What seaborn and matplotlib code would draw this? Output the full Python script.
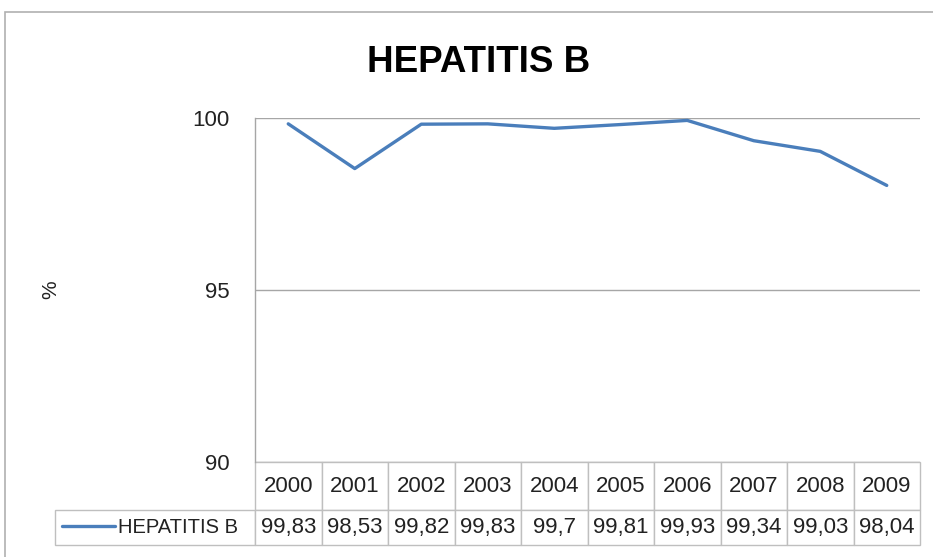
import numpy as np
import pandas as pd
import matplotlib
matplotlib.use('Agg')
import matplotlib.pyplot as plt
import seaborn as sns
from matplotlib.patches import Rectangle

# data
years = [2000, 2001, 2002, 2003, 2004, 2005, 2006, 2007, 2008, 2009]
values = [99.83, 98.53, 99.82, 99.83, 99.7, 99.81, 99.93, 99.34, 99.03, 98.04]
series_name = 'HEPATITIS B'
chart_title = 'HEPATITIS B'
y_ticks = [90, 95, 100]

df = pd.DataFrame({'year': years, 'value': values, 'serie': series_name})

sns.set_theme(style='white')
plt.rcParams['font.family'] = ['Liberation Sans', 'DejaVu Sans']

fig = plt.figure(figsize=(9.33, 5.57), dpi=100)
ax = fig.add_axes([255 / 933, 95 / 557, 665 / 933, 344 / 557])

sns.lineplot(data=df, x='year', y='value', hue='serie', palette=['#4a7ebb'],
             linewidth=2.4, ax=ax)

ax.set_xlim(years[0] - 0.5, years[-1] + 0.5)
ax.set_ylim(90, 100)
ax.set_yticks(y_ticks)
ax.set_xticks([])
ax.set_xlabel('')
ax.set_ylabel('%', fontsize=15, color='#222222')
ax.yaxis.set_label_coords(-0.293, 0.5)
ax.tick_params(axis='y', length=0, pad=18, labelsize=16, labelcolor='#222222')
ax.yaxis.grid(True, color='#a6a6a6', linewidth=1)
for s in ['top', 'right', 'bottom']:
    ax.spines[s].set_visible(False)
ax.spines['left'].set_color('#a6a6a6')
ax.spines['left'].set_linewidth(1)

# data table under the plot
fmt = lambda v: str(v).replace('.', ',')
rows = [[''] + [str(y) for y in years], [''] + [fmt(v) for v in values]]
tbl = ax.table(cellText=rows, cellLoc='center',
               bbox=[-200 / 665, -83 / 344, 865 / 665, 83 / 344])
tbl.auto_set_font_size(False)
tbl.set_fontsize(16)
for (r, c), cell in tbl.get_celld().items():
    cell.set_width(200 if c == 0 else 66.5)
    cell.set_height(48 if r == 0 else 35)
    cell.set_edgecolor('#bfbfbf')
    cell.set_linewidth(1)
    cell.PAD = 0.02
    cell.get_text().set_color('#222222')
tbl[0, 0].visible_edges = ''

# legend key inside the first table cell
handles, _ = ax.get_legend_handles_labels()
ax.legend(handles, [series_name], loc='center left',
          bbox_to_anchor=(-0.29, -(48 + 17.5) / 344), frameon=False,
          fontsize=14.5, handlelength=2.6, handletextpad=0.15,
          borderpad=0, borderaxespad=0, labelcolor='#222222')

fig.text(479 / 933, 1 - 62 / 557, chart_title, ha='center', va='center',
         fontsize=26.5, fontweight='bold', color='black')

# outer chart frame
fig.add_artist(Rectangle((5 / 933, -0.1), 1.1, 1.1 - 12 / 557,
                         transform=fig.transFigure, fill=False,
                         edgecolor='#b0b0b0', linewidth=1.2))

fig.savefig('out.png', dpi=100)
